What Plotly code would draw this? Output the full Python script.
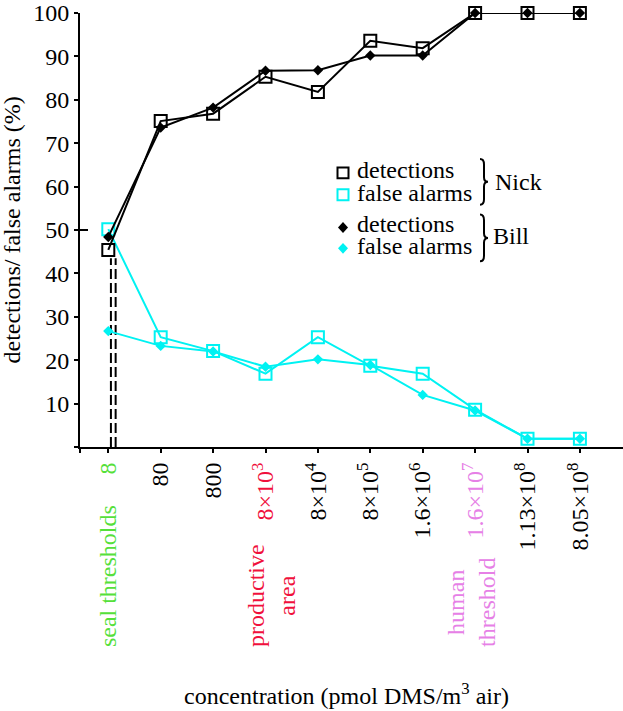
import plotly.graph_objects as go

# ---- data ----
positions = list(range(10))
tick_labels = [
    "<span style='color:#55E03A'>8</span>",
    "80",
    "800",
    "<span style='color:#F0103C'>8×10<sup>3</sup></span>",
    "8×10<sup>4</sup>",
    "8×10<sup>5</sup>",
    "1.6×10<sup>6</sup>",
    "<span style='color:#E680E6'>1.6×10<sup>7</sup></span>",
    "1.13×10<sup>8</sup>",
    "8.05×10<sup>8</sup>",
]
nick_detections = [45.4, 75.1, 76.8, 85.3, 81.8, 93.6, 91.9, 100, 100, 100]
nick_false_alarms = [50.2, 25.3, 22.1, 16.9, 25.3, 18.7, 16.9, 8.6, 1.9, 1.9]
bill_detections = [48.4, 73.6, 78.2, 86.7, 86.8, 90.2, 90.2, 100, 100, 100]
bill_false_alarms = [26.7, 23.3, 22.0, 18.5, 20.2, 18.9, 12.0, 8.4, 1.9, 1.9]
seal_threshold_x = [0.05, 0.14]
seal_threshold_top = 43.5
y_tick_vals = [0, 10, 20, 30, 40, 50, 60, 70, 80, 90, 100]
y_tick_text = [" ", "10", "20", "30", "40", "50", "60", "70", "80", "90", "100"]

BLACK = "#000000"
CYAN = "#00F2F2"
GREEN = "#55E03A"
RED = "#F0103C"
VIOLET = "#E680E6"
FONT = "Liberation Serif, Times New Roman, Times, serif"

W, H = 623, 711
ML, MR, MT, MB = 80, 0, 10, 264
PW = W - ML - MR
PH = H - MT - MB


def px_x(p):
    return (p - ML) / PW


def px_y(p):
    return (H - MB - p) / PH


fig = go.Figure()

# seal threshold dashed lines
for sx in seal_threshold_x:
    fig.add_trace(go.Scatter(
        x=[sx, sx], y=[0, seal_threshold_top], mode="lines",
        line=dict(color=BLACK, width=2, dash="10px,4px"),
        showlegend=False, hoverinfo="skip"))

fig.add_trace(go.Scatter(
    x=positions, y=nick_false_alarms, mode="lines+markers",
    line=dict(color=CYAN, width=2),
    marker=dict(symbol="square-open", size=12, color=CYAN, line=dict(width=2, color=CYAN)),
    cliponaxis=False, showlegend=False))
fig.add_trace(go.Scatter(
    x=positions, y=bill_false_alarms, mode="lines+markers",
    line=dict(color=CYAN, width=2),
    marker=dict(symbol="diamond", size=8, color=CYAN),
    cliponaxis=False, showlegend=False))
fig.add_trace(go.Scatter(
    x=positions, y=nick_detections, mode="lines+markers",
    line=dict(color=BLACK, width=2),
    marker=dict(symbol="square-open", size=12, color=BLACK, line=dict(width=2, color=BLACK)),
    cliponaxis=False, showlegend=False))
fig.add_trace(go.Scatter(
    x=positions, y=bill_detections, mode="lines+markers",
    line=dict(color=BLACK, width=2),
    marker=dict(symbol="diamond", size=8, color=BLACK),
    cliponaxis=False, showlegend=False))

x0 = -28.3 / 52.4
x1 = x0 + PW / 52.4

fig.update_xaxes(
    range=[x0, x1],
    tickvals=[x0] + positions,
    ticktext=[" "] + tick_labels,
    tickangle=-90,
    ticks="outside", ticklen=4, tickwidth=2, tickcolor=BLACK,
    showline=True, linewidth=2, linecolor=BLACK,
    showgrid=False, zeroline=False,
    ticklabeloverflow="allow",
    tickfont=dict(family=FONT, size=24, color=BLACK),
)
fig.update_yaxes(
    range=[0, 100],
    tickvals=y_tick_vals,
    ticktext=y_tick_text,
    ticks="outside", ticklen=4, tickwidth=2, tickcolor=BLACK,
    showline=True, linewidth=2, linecolor=BLACK,
    showgrid=False, zeroline=False,
    ticklabeloverflow="allow",
    tickfont=dict(family=FONT, size=24, color=BLACK),
)

shapes = []
annotations = []

# 50 tick crossing the axis
shapes.append(dict(type="line", xref="paper", yref="y", x0=px_x(77), x1=px_x(88),
                   y0=50, y1=50, line=dict(color=BLACK, width=2)))

# legend markers
def square(cx, cy, color, half=5.5):
    return dict(type="rect", xref="paper", yref="paper",
                x0=px_x(cx - half), x1=px_x(cx + half),
                y0=px_y(cy + half), y1=px_y(cy - half),
                line=dict(color=color, width=2), fillcolor="rgba(0,0,0,0)")


def diamond(cx, cy, color, hw=5, hh=5.5):
    path = (f"M {px_x(cx)} {px_y(cy - hh)} L {px_x(cx + hw)} {px_y(cy)} "
            f"L {px_x(cx)} {px_y(cy + hh)} L {px_x(cx - hw)} {px_y(cy)} Z")
    return dict(type="path", xref="paper", yref="paper", path=path,
                fillcolor=color, line=dict(color=color, width=0))


def brace(x, top, bot, w=8):
    mid = (top + bot) / 2
    h = bot - top
    xm = x + w / 2
    pts = [
        f"M {px_x(x)} {px_y(top)}",
        f"Q {px_x(xm)} {px_y(top)} {px_x(xm)} {px_y(top + h * 0.12)}",
        f"L {px_x(xm)} {px_y(mid - h * 0.1)}",
        f"Q {px_x(xm)} {px_y(mid)} {px_x(x + w)} {px_y(mid)}",
        f"Q {px_x(xm)} {px_y(mid)} {px_x(xm)} {px_y(mid + h * 0.1)}",
        f"L {px_x(xm)} {px_y(bot - h * 0.12)}",
        f"Q {px_x(xm)} {px_y(bot)} {px_x(x)} {px_y(bot)}",
    ]
    return dict(type="path", xref="paper", yref="paper", path=" ".join(pts),
                line=dict(color=BLACK, width=2))


shapes.append(square(343, 171, BLACK))
shapes.append(square(343, 193, CYAN))
shapes.append(diamond(343, 226, BLACK))
shapes.append(diamond(343, 247, CYAN))
shapes.append(brace(480, 157, 203))
shapes.append(brace(480, 213, 260))

legend_rows = [("detections", 168), ("false alarms", 191), ("detections", 222), ("false alarms", 245)]
for txt, cy in legend_rows:
    annotations.append(dict(text=txt, xref="paper", yref="paper", x=px_x(355), y=px_y(cy),
                            xanchor="left", yanchor="middle", showarrow=False,
                            font=dict(family=FONT, size=24, color=BLACK)))
annotations.append(dict(text="Nick", xref="paper", yref="paper", x=px_x(493), y=px_y(180),
                        xanchor="left", yanchor="middle", showarrow=False,
                        font=dict(family=FONT, size=24, color=BLACK)))
annotations.append(dict(text="Bill", xref="paper", yref="paper", x=px_x(491), y=px_y(235),
                        xanchor="left", yanchor="middle", showarrow=False,
                        font=dict(family=FONT, size=24, color=BLACK)))

# category notes below tick labels
notes = [("seal thresholds", 108, 577, GREEN),
         ("productive<br>area", 272, 597, RED),
         ("human<br>threshold", 472, 604, VIOLET)]
for txt, cx, cy, col in notes:
    annotations.append(dict(text=txt, xref="paper", yref="paper", x=px_x(cx), y=px_y(cy),
                            xanchor="center", yanchor="middle", textangle=-90, showarrow=False,
                            font=dict(family=FONT, size=24, color=col)))

# axis titles
annotations.append(dict(text="concentration (pmol DMS/m<sup>3</sup> air)", xref="paper", yref="paper",
                        x=px_x(346), y=px_y(696), xanchor="center", yanchor="middle", showarrow=False,
                        font=dict(family=FONT, size=24, color=BLACK)))
annotations.append(dict(text="detections/ false alarms (%)", xref="paper", yref="paper",
                        x=px_x(12), y=px_y(228), xanchor="center", yanchor="middle", textangle=-90,
                        showarrow=False, font=dict(family=FONT, size=24, color=BLACK)))

fig.update_layout(
    width=W, height=H,
    margin=dict(l=ML, r=MR, t=MT, b=MB, pad=0),
    paper_bgcolor="white", plot_bgcolor="white",
    showlegend=False,
    shapes=shapes, annotations=annotations,
    font=dict(family=FONT, size=24, color=BLACK),
)

fig.write_html("out.html", config={"displayModeBar": False},
               post_script="document.body.style.margin='0';")
